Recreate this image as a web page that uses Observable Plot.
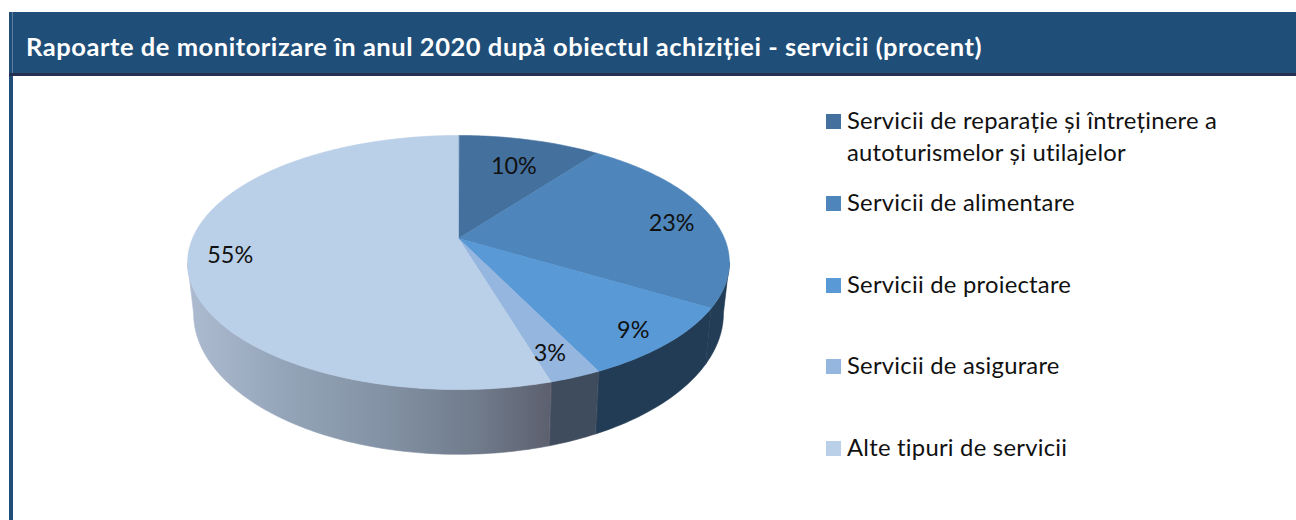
<!DOCTYPE html>
<html lang="ro">
<head>
<meta charset="utf-8">
<script src="https://cdn.jsdelivr.net/npm/d3@7"></script>
<script src="https://cdn.jsdelivr.net/npm/@observablehq/plot@0.6"></script>
<style>
  html, body { margin: 0; padding: 0; background: #fff; width: 1296px; height: 520px; overflow: hidden; font-family: Lato, "Open Sans", sans-serif; font-variant-ligatures: none; }
  #page { position: relative; width: 1296px; height: 520px; overflow: hidden; }
  #title { position: absolute; left: 9px; top: 12px; width: 1287px; height: 61px; background: #1F4E79; border-bottom: 3px solid #252F50; color: #fff; font-weight: 700; font-size: 25.5px; letter-spacing: 0.54px; line-height: 68px; box-sizing: content-box; white-space: nowrap; }
  #title span { position: absolute; left: 17px; top: 0; }
  #title i { position: absolute; left: 3px; top: 0; width: 1px; height: 61px; background: #5d7e9e; }
  #bar { position: absolute; left: 9px; top: 76px; width: 4px; height: 444px; background: #1F4E79; }
  #chart { position: absolute; left: 0; top: 76px; }
  #legend { position: absolute; left: 826px; top: 107px; width: 440px; }
  .item { position: relative; height: 81.75px; font-size: 23.8px; letter-spacing: 0.25px; line-height: 32px; color: #111; padding-left: 21px; box-sizing: border-box; }
  .item b { position: absolute; left: 0; top: 7px; width: 15px; height: 15px; }
  .item div { position: relative; top: -3px; width: 390px; }
</style>
</head>
<body>
<div id="page">
  <div id="title"><i></i><span>Rapoarte de monitorizare în anul 2020 după obiectul achiziției - servicii (procent)</span></div>
  <div id="bar"></div>
  <div id="chart"></div>
  <div id="legend"></div>
</div>
<script>
const categories = [
  "Servicii de reparație și întreținere a autoturismelor și utilajelor",
  "Servicii de alimentare",
  "Servicii de proiectare",
  "Servicii de asigurare",
  "Alte tipuri de servicii"
];
const values = [10.2, 23.4, 9.2, 2.6, 54.6];
const topColors = ["#44709E", "#4E86BB", "#5899D6", "#94B6DF", "#BACFE8"];
const sideColors = ["#2A435F", "#233D56", "#223C55", "#3F4C5D", "url(#sideGradient)"];
const labelNudges = [[2, 2], [30, 2], [31, 20], [12, 21], [-35, 4]];

// Projection of the tilted disc (layout constants, not data)
const W = 790, H = 444;
const cx = 458, apex = 162, R = 266, A = 122.5, K = -0.189;
const bottomScaleX = 0.978, bottomScaleY = 1.11, bottomShift = 0.393;
const project = (turn, r = 1) => {
  const u = r * Math.sin(turn), v = -r * Math.cos(turn), d = 1 + K * v;
  return {x: u / d, y: v / d};
};
const lower = (p) => ({x: p.x * bottomScaleX, y: p.y * bottomScaleY + bottomShift});

const arcs = [];
let acc = 0;
const total = d3.sum(values);
values.forEach((v, i) => {
  const a0 = acc / total * 2 * Math.PI;
  acc += v;
  arcs.push({i, a0, a1: acc / total * 2 * Math.PI});
});

const STEP = Math.PI / 180;
const rim = (a0, a1) => {
  const n = Math.max(1, Math.ceil((a1 - a0) / STEP));
  return d3.range(n + 1).map((j) => project(a0 + (a1 - a0) * j / n));
};

// The side wall is visible between the two silhouette angles of the disc
const silhouette = Math.PI - Math.acos(-K);
const topRows = [], sideRows = [];
arcs.forEach(({i, a0, a1}) => {
  const name = categories[i];
  topRows.push({name, i, x: 0, y: 0});
  rim(a0, a1).forEach((p) => topRows.push({name, i, ...p}));
  const s0 = Math.max(a0, silhouette), s1 = Math.min(a1, 2 * Math.PI - silhouette);
  if (s1 > s0) {
    const arc = rim(s0, s1);
    arc.forEach((p) => sideRows.push({name, i, ...p}));
    arc.slice().reverse().forEach((p) => sideRows.push({name, i, ...lower(p)}));
  }
});

const defs = () => {
  const ns = "http://www.w3.org/2000/svg";
  const d = document.createElementNS(ns, "defs");
  const g = document.createElementNS(ns, "linearGradient");
  g.setAttribute("id", "sideGradient");
  [[0, "#ADBBD1"], [0.25, "#96A6BA"], [0.55, "#8291A3"], [0.8, "#707B8B"], [1, "#5C606E"]].forEach(([o, c]) => {
    const s = document.createElementNS(ns, "stop");
    s.setAttribute("offset", o);
    s.setAttribute("stop-color", c);
    g.appendChild(s);
  });
  d.appendChild(g);
  return d;
};

const labelMarks = arcs.map(({i, a0, a1}) => {
  const p = project((a0 + a1) / 2, 0.72);
  return Plot.text([{...p, label: Math.round(values[i]) + "%"}], {
    x: "x", y: "y", text: "label",
    dx: labelNudges[i][0], dy: labelNudges[i][1],
    fontSize: 23.4, fontFamily: "Lato, sans-serif", fill: "#111"
  });
});

const slicesByIndex = (rows, colors, extra = {}) =>
  d3.groups(rows, (d) => d.i).map(([i, pts]) =>
    Plot.line(pts, {x: "x", y: "y", fill: colors[i], stroke: colors[i], strokeWidth: 0.6, curve: "linear-closed", ...extra}));

const plot = Plot.plot({
  width: W, height: H,
  margin: 0,
  style: {background: "transparent"},
  x: {domain: [-cx / R, (W - cx) / R], axis: null},
  y: {domain: [-apex / A, (H - apex) / A], range: [0, H], axis: null},
  marks: [
    defs,
    ...slicesByIndex(sideRows, sideColors),
    ...slicesByIndex(topRows, topColors),
    ...labelMarks
  ]
});
document.getElementById("chart").appendChild(plot);

const legend = document.getElementById("legend");
categories.forEach((c, i) => {
  const item = document.createElement("div");
  item.className = "item";
  const sw = document.createElement("b");
  sw.style.background = topColors[i];
  item.appendChild(sw);
  const words = document.createElement("div");
  words.textContent = c;
  item.appendChild(words);
  legend.appendChild(item);
});
</script>
</body>
</html>
